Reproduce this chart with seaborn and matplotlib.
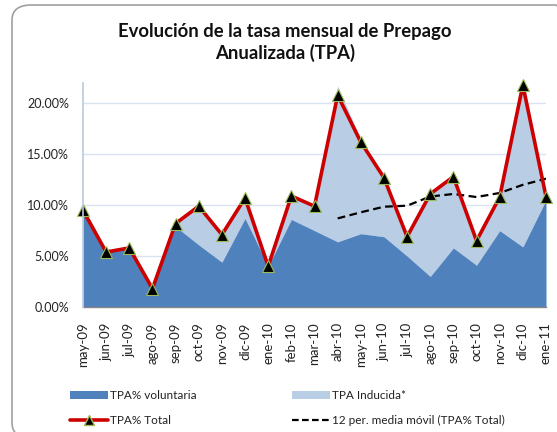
import matplotlib
matplotlib.use("Agg")
import matplotlib.pyplot as plt
import seaborn as sns
import numpy as np
import pandas as pd
from matplotlib.patches import FancyBboxPatch, Patch
from matplotlib.lines import Line2D
from matplotlib.ticker import PercentFormatter

months = ["may-09", "jun-09", "jul-09", "ago-09", "sep-09", "oct-09", "nov-09",
          "dic-09", "ene-10", "feb-10", "mar-10", "abr-10", "may-10", "jun-10",
          "jul-10", "ago-10", "sep-10", "oct-10", "nov-10", "dic-10", "ene-11"]
voluntaria = [9.5, 5.4, 5.8, 1.8, 7.9, 6.1, 4.4, 8.7, 4.0, 8.6, 7.5, 6.4, 7.2,
              6.9, 5.0, 3.0, 5.8, 4.1, 7.5, 5.9, 10.5]
inducida = [0.0, 0.0, 0.0, 0.0, 0.3, 3.8, 2.7, 2.0, 0.0, 2.3, 2.4, 15.3, 9.3,
            5.9, 1.9, 8.1, 7.0, 2.4, 3.3, 15.9, 0.35]
total = [9.5, 5.4, 5.8, 1.8, 8.2, 9.9, 7.1, 10.7, 4.0, 10.9, 9.9, 20.8, 16.2,
         12.7, 6.9, 11.1, 12.8, 6.5, 10.8, 21.8, 10.85]
media_movil = [np.nan] * 11 + [8.7, 9.3, 9.85, 9.95, 10.85, 11.1, 10.8, 11.2,
                                12.0, 12.6]
yticks = [0, 5, 10, 15, 20]

df = pd.DataFrame({"mes": months, "x": range(len(months)),
                   "vol": np.array(voluntaria) / 100,
                   "ind": np.array(inducida) / 100,
                   "total": np.array(total) / 100,
                   "mm": np.array(media_movil) / 100})

sns.set_theme(style="white")
plt.rcParams["font.family"] = ["Lato", "DejaVu Sans"]

W, H = 557, 432
fig = plt.figure(figsize=(W / 100, H / 100), dpi=100)
ax = fig.add_axes([83 / W, 1 - 307 / H, (546 - 83) / W, (307 - 83) / H])

# rounded border
fig.patches.append(FancyBboxPatch((12 / W, -6 / H), (575 - 12) / W, (427 + 6) / H,
                                  boxstyle="round,pad=0,rounding_size=0.035",
                                  transform=fig.transFigure, fill=False,
                                  ec="#A0A0A0", lw=1.2, zorder=-1))

dark = "#4F81BD"
light = "#B9CDE5"
red = "#CC0000"

ax.fill_between(df["x"], 0, df["vol"], color=dark, lw=0, zorder=2)
ax.fill_between(df["x"], df["vol"], df["vol"] + df["ind"], color=light, lw=0, zorder=1)
sns.lineplot(data=df, x="x", y="total", ax=ax, color=red, lw=2.6, marker="^",
             markersize=8, markerfacecolor="black", markeredgecolor="#9BBB59",
             markeredgewidth=0.8, zorder=4, clip_on=False)
sns.lineplot(data=df.dropna(), x="x", y="mm", ax=ax, color="black", lw=1.6,
             ls=(0, (3.5, 2)), zorder=3)

ax.set_xlim(0, 20)
ax.set_ylim(0, 0.22)
ax.set_yticks(np.array(yticks) / 100)
ax.yaxis.set_major_formatter(PercentFormatter(1.0, decimals=2))
ax.set_xticks(df["x"])
ax.set_xticklabels(months, rotation=90, fontsize=9.5, color="#222222")
ax.tick_params(axis="y", labelsize=9, labelcolor="#222222", pad=10, length=0)
ax.tick_params(axis="x", pad=11, length=0)
ax.set_xlabel("")
ax.set_ylabel("")
ax.grid(axis="y", color="#D9E2F0", lw=1)
ax.set_axisbelow(True)
for s in ["top", "right"]:
    ax.spines[s].set_visible(False)
ax.spines["left"].set_color("#B9C9DF")
ax.spines["left"].set_linewidth(1.2)
ax.spines["bottom"].set_color("#868686")
ax.spines["bottom"].set_linewidth(1)
ax.spines["left"].set_zorder(5)

fig.text(285 / W, 1 - 31 / H, "Evolución de la tasa mensual de Prepago",
         ha="center", va="center", fontsize=13.3, fontweight="bold", color="#111111")
fig.text(285 / W, 1 - 53 / H, "Anualizada (TPA)",
         ha="center", va="center", fontsize=13.3, fontweight="bold", color="#111111")

h_vol = Patch(facecolor=dark, edgecolor="none")
h_ind = Patch(facecolor=light, edgecolor="none")
h_tot = Line2D([], [], color=red, lw=2.6, marker="^", markersize=7,
               markerfacecolor="black", markeredgecolor="#9BBB59")
h_mm = Line2D([], [], color="black", lw=1.6, ls=(0, (3, 1.5)))
kw = dict(frameon=False, fontsize=8.5, handlelength=3.2, handleheight=0.6,
          handletextpad=0.15, labelspacing=1.15, labelcolor="#222222",
          borderpad=0.2)
fig.legend([h_vol, h_tot], ["TPA% voluntaria", "TPA% Total"],
           loc="upper left", bbox_to_anchor=(62 / W, 1 - 382 / H), **kw)
fig.legend([h_ind, h_mm], ["TPA Inducida*", "12 per. media móvil (TPA% Total)"],
           loc="upper left", bbox_to_anchor=(284 / W, 1 - 382 / H), **kw)

fig.savefig("out.png", dpi=100)
